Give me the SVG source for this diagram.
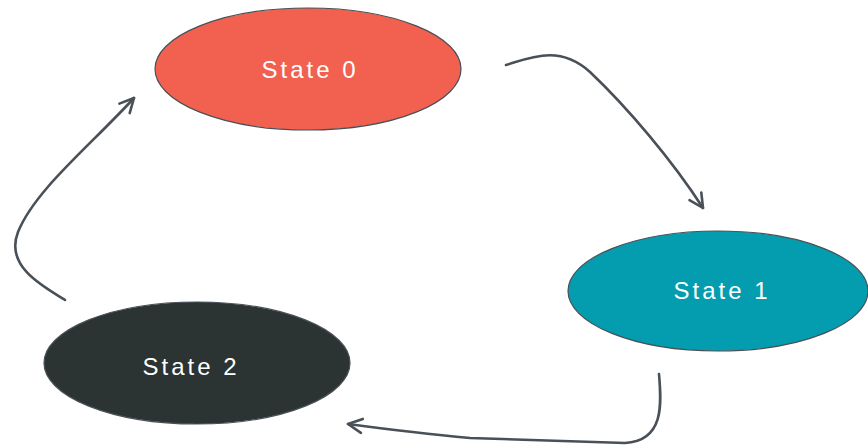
<svg xmlns="http://www.w3.org/2000/svg" width="868" height="447" viewBox="0 0 868 447">
<defs>
<style>
.node ellipse{stroke:#495057;stroke-width:1.2}
.node text{font-family:"Liberation Sans","DejaVu Sans",sans-serif;font-size:24px;fill:#ffffff;text-anchor:middle;dominant-baseline:central;letter-spacing:3px}
.edge{fill:none;stroke:#495057;stroke-width:2.6;stroke-linecap:round;stroke-linejoin:round}
</style>
<marker id="arrow" viewBox="0 0 20 20" refX="18" refY="10" markerWidth="20" markerHeight="20" markerUnits="userSpaceOnUse" orient="auto">
<path d="M4,3 L18,10 L4,17" fill="none" stroke="#495057" stroke-width="2.6" stroke-linecap="round" stroke-linejoin="round"/>
</marker>
</defs>
<rect width="868" height="447" fill="#ffffff"/>
<g id="connectors">
<path class="edge" d="M506,65 C532,57 560,45 590,72 C627,107 672,160 703,208" marker-end="url(#arrow)"/>
<path class="edge" d="M659,374 C661,400 666,441 625,443 L470,438 C425,434 385,429 348,424" marker-end="url(#arrow)"/>
<path class="edge" d="M65,300 C40,285 5,265 18,232 C35,190 90,146 134,98" marker-end="url(#arrow)"/>
</g>
<g id="state0" class="node">
<ellipse cx="308" cy="69" rx="153" ry="61" fill="#f26150"/>
<text x="310" y="69">State 0</text>
</g>
<g id="state1" class="node">
<ellipse cx="718" cy="291" rx="150" ry="60" fill="#049daf"/>
<text x="722" y="290">State 1</text>
</g>
<g id="state2" class="node">
<ellipse cx="197" cy="363" rx="153" ry="61" fill="#2c3333"/>
<text x="191" y="366">State 2</text>
</g>
</svg>
